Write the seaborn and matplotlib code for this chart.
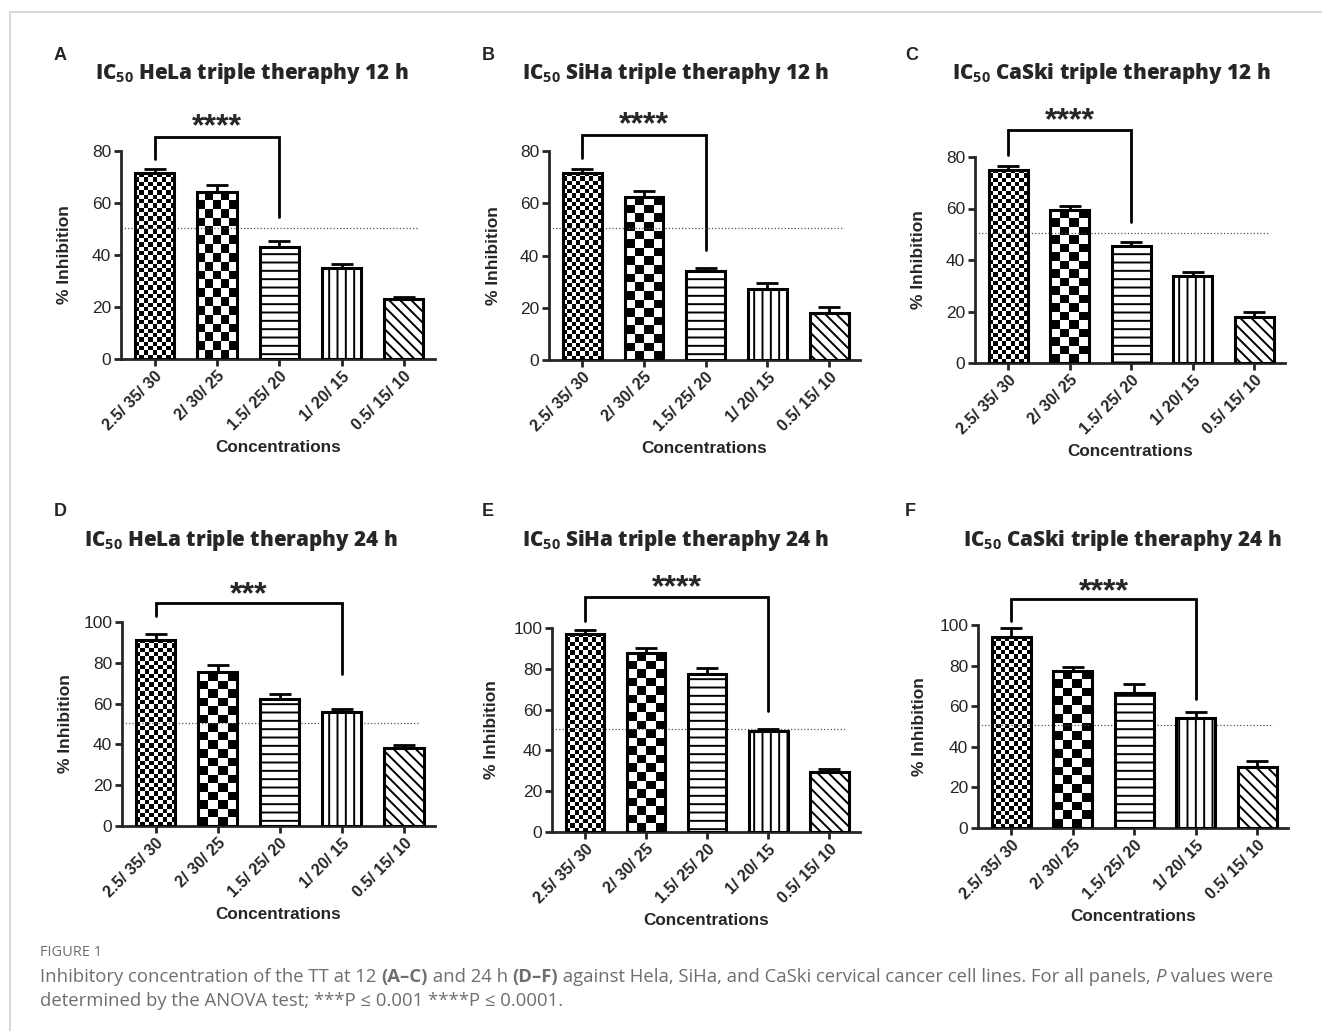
import numpy as np
import pandas as pd
import seaborn as sns
import matplotlib.pyplot as plt
from matplotlib.text import Annotation
from matplotlib.lines import Line2D

# x categories (drug concentrations)
concentrations = ["2.5/ 35/ 30", "2/ 30/ 25", "1.5/ 25/ 20", "1/ 20/ 15", "0.5/ 15/ 10"]

# % inhibition (mean) and upper error
hela_12h = [71.4, 64.3, 43.0, 35.1, 23.2]
hela_12h_err = [1.6, 2.5, 2.3, 1.3, 0.6]
siha_12h = [71.7, 62.4, 34.0, 27.1, 17.8]
siha_12h_err = [1.6, 2.2, 1.3, 2.2, 2.3]
caski_12h = [75.1, 59.3, 45.5, 33.8, 18.0]
caski_12h_err = [1.4, 1.7, 1.5, 1.7, 1.7]
hela_24h = [91.4, 75.4, 62.5, 55.8, 38.0]
hela_24h_err = [2.9, 3.6, 2.3, 1.5, 1.5]
siha_24h = [97.2, 87.9, 77.6, 49.4, 29.3]
siha_24h_err = [1.7, 2.5, 2.8, 1.3, 1.8]
caski_24h = [93.9, 77.5, 66.4, 54.3, 30.2]
caski_24h_err = [4.5, 2.0, 4.4, 2.6, 2.6]

panel_letters = ["A", "B", "C", "D", "E", "F"]
cell_lines = ["HeLa", "SiHa", "CaSki", "HeLa", "SiHa", "CaSki"]
hours = ["12", "12", "12", "24", "24", "24"]
y_max = [80, 80, 80, 100, 100, 100]

# significance brackets: compared bar, bracket height, leg ends, label
sig_bar = [2, 2, 2, 3, 3, 3]
sig_label = ["****", "****", "****", "***", "****", "****"]
bracket_y = [85.5, 86.2, 90.3, 109.5, 115.2, 112.6]
left_leg = [77.0, 77.3, 80.6, 102.8, 103.4, 102.1]
right_leg = [54.7, 42.0, 54.8, 74.4, 59.2, 63.5]
star_y = [89.3, 90.0, 93.8, 113.3, 119.6, 116.3]
ic50_line = 50.5

means = [hela_12h, siha_12h, caski_12h, hela_24h, siha_24h, caski_24h]
errs = [hela_12h_err, siha_12h_err, caski_12h_err, hela_24h_err, siha_24h_err, caski_24h_err]

W, H = 1322, 1031
# axes boxes in pixels: left, right, top, bottom
boxes = [(121, 435, 151, 359), (549, 860, 151, 360), (975, 1285, 157, 363),
         (122, 435, 622, 826), (552, 860, 628, 832), (978, 1288, 625, 828)]
title_x = [252, 676, 1111, 241, 676, 1122]
title_base = [79, 79, 79, 546, 546, 546]
letter_xy = [(60, 55), (488, 55), (912, 55), (60, 512), (488, 512), (910, 512)]
ylabel_x = [65, 494, 919, 66, 492, 920]

sns.set_style("ticks")
plt.rcParams["font.family"] = ["Liberation Sans", "DejaVu Sans"]
plt.rcParams["mathtext.fontset"] = "custom"
plt.rcParams["mathtext.rm"] = "Open Sans"
plt.rcParams["mathtext.bf"] = "Open Sans:bold"
plt.rcParams["hatch.linewidth"] = 1.4

fig = plt.figure(figsize=(W / 100, H / 100), dpi=100)
xlo, xhi = -0.54, 4.5
hatches = [None, None, "--", "||", "\\\\\\"]
checker_px = [4.3, 8.7]

for k in range(6):
    l, r, t, b = boxes[k]
    ax = fig.add_axes([l / W, 1 - b / H, (r - l) / W, (b - t) / H])
    df = pd.DataFrame({"conc": concentrations, "inhibition": means[k]})
    sns.barplot(data=df, x="conc", y="inhibition", color="white", saturation=1,
                edgecolor="black", linewidth=2.2, width=0.63, errorbar=None, ax=ax)
    ax.set_xlim(xlo, xhi)
    ax.set_ylim(0, y_max[k])
    ax_w, ax_h = r - l, b - t
    for i, p in enumerate(ax.patches):
        p.set_zorder(3)
        if hatches[i]:
            p.set_hatch(hatches[i])
        else:
            # checkerboard fill
            x0, w, h = p.get_x(), p.get_width(), p.get_height()
            nx = max(1, int(round(w * ax_w / (xhi - xlo) / checker_px[i])))
            ny = max(1, int(round(h * ax_h / y_max[k] / checker_px[i])))
            img = np.indices((ny, nx)).sum(axis=0) % 2
            ax.imshow(img, cmap="gray_r", vmin=0, vmax=1, extent=[x0, x0 + w, 0, h],
                      aspect="auto", interpolation="nearest", zorder=2)
            p.set_facecolor("none")
    ax.set_xlim(xlo, xhi)
    ax.set_ylim(0, y_max[k])

    xs = np.arange(len(concentrations))
    ax.errorbar(xs, means[k], yerr=[np.zeros(len(xs)), errs[k]], fmt="none",
                ecolor="black", elinewidth=2, capsize=8, capthick=2, zorder=2.8)
    ax.axhline(ic50_line, xmin=0, xmax=0.95, ls=":", color="#555555", lw=0.9, zorder=2.5)

    j = sig_bar[k]
    ax.plot([0, 0, j, j], [left_leg[k], bracket_y[k], bracket_y[k], right_leg[k]],
            color="black", lw=2, clip_on=False, solid_joinstyle="miter")
    ax.text(j / 2, star_y[k], sig_label[k], ha="center", va="center", fontsize=23,
            fontweight="heavy", clip_on=False)

    sns.despine(ax=ax)
    for s in ["left", "bottom"]:
        ax.spines[s].set_linewidth(2)
    ax.set_yticks(range(0, y_max[k] + 1, 20))
    ax.tick_params(axis="both", width=2, length=5, pad=2)
    ax.tick_params(axis="y", labelsize=12.5)
    ax.set_xticks(xs)
    ax.set_xticklabels(concentrations, rotation=45, ha="right", rotation_mode="anchor",
                       fontsize=11.5, fontweight="bold")
    ax.set_xlabel("Concentrations", fontsize=12.3, fontweight="bold", labelpad=5)
    ax.set_ylabel("% Inhibition", fontsize=12.5, fontweight="bold")
    ax.yaxis.set_label_coords((ylabel_x[k] + 7 - l) / ax_w, 0.5)

    fig.text(title_x[k] / W, 1 - title_base[k] / H,
             r"IC$_{\mathbf{50}}$ " + cell_lines[k] + " triple theraphy " + hours[k] + " h",
             ha="center", va="baseline", fontsize=14.9, fontweight=800, family="Open Sans")
    lx, ly = letter_xy[k]
    fig.text(lx / W, 1 - ly / H, panel_letters[k], ha="center", va="center",
             fontsize=13, fontweight="bold")

# caption, built piece by piece so bold/italic runs sit inline
cap_color = "#6e6e6e"
fig.text(40 / W, 1 - 952 / H, "FIGURE 1", ha="left", va="center", fontsize=10.5,
         color=cap_color, family="Open Sans")
caption_lines = [
    [("Inhibitory concentration of the TT at 12 ", "normal", "normal"),
     ("(A–C)", "bold", "normal"),
     (" and 24 h ", "normal", "normal"),
     ("(D–F)", "bold", "normal"),
     (" against Hela, SiHa, and CaSki cervical cancer cell lines. For all panels, ", "normal", "normal"),
     ("P", "normal", "italic"),
     (" values were", "normal", "normal")],
    [("determined by the ANOVA test; ***P ≤ 0.001 ****P ≤ 0.0001.", "normal", "normal")],
]
for row, pieces in zip([986, 1010], caption_lines):
    last = None
    for txt, wt, st in pieces:
        kw = dict(fontsize=13.3, color=cap_color, family="Open Sans", fontweight=wt,
                  fontstyle=st, va="bottom", ha="left")
        if last is None:
            last = fig.text(40 / W, 1 - row / H, txt, **kw)
        else:
            last = fig.add_artist(Annotation(txt, xy=(1, 0), xycoords=last, **kw))

# page frame
fig.add_artist(Line2D([10 / W, 1], [1 - 12 / H, 1 - 12 / H], color="#d9d9d9", lw=1.5))
fig.add_artist(Line2D([10 / W, 10 / W], [0, 1 - 12 / H], color="#d9d9d9", lw=1.5))

fig.savefig("out.png", dpi=100)
